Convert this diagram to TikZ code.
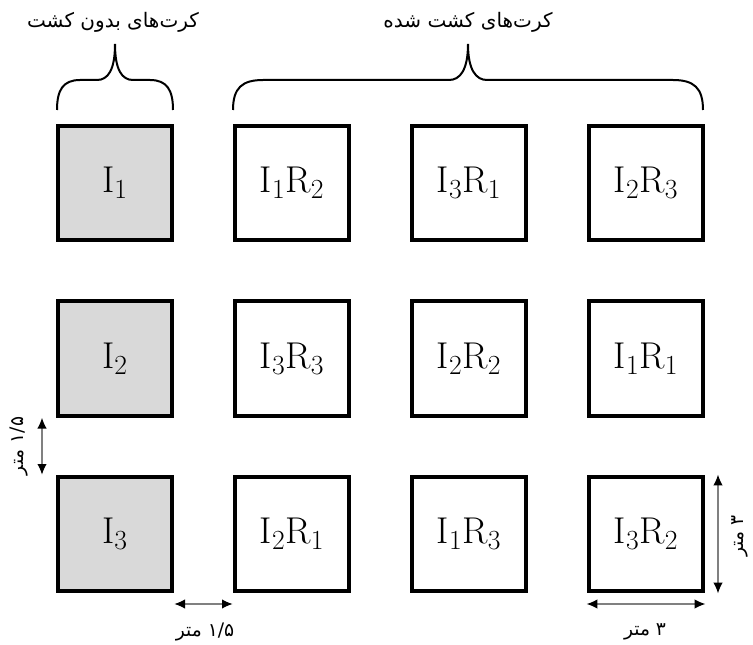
\documentclass[tikz,border=0pt]{standalone}
\usepackage{fontspec}
\usetikzlibrary{arrows.meta, positioning}
\newfontfamily\persianfont[Script=Arabic]{DejaVu Sans}
\TeXXeTstate=1
\newcommand{\fa}[1]{{\persianfont\beginR #1\endR}}

\begin{document}
\begin{tikzpicture}[x=0.75pt, y=-0.75pt,
    plot/.style={draw, line width=3pt, minimum size=86pt, inner sep=0pt, font=\fontsize{28}{30}\selectfont},
    control/.style={plot, fill=gray!30},
    dim/.style={draw=gray, line width=0.8pt, {Latex[black, length=8pt, width=7pt]}-{Latex[black, length=8pt, width=7pt]}},
    dimlabel/.style={font=\fontsize{14}{16}\selectfont, inner sep=0pt},
    headlabel/.style={font=\fontsize{15}{17}\selectfont, inner sep=0pt},
    brace/.style={line width=1.5pt}]
\useasboundingbox (0,0) rectangle (753,645);

% plots without cultivation
\foreach \r in {1,2,3} {
    \node[control] (b\r1) at (115,{183+175.5*(\r-1)}) {$\mathrm{I}_\r$};
}
% cultivated plots
\foreach \r/\c/\i/\k in {1/2/1/2, 1/3/3/1, 1/4/2/3, 2/2/3/3, 2/3/2/2, 2/4/1/1, 3/2/2/1, 3/3/1/3, 3/4/3/2} {
    \node[plot] (b\r\c) at ({115+177*(\c-1)},{183+175.5*(\r-1)}) {$\mathrm{I}_\i\mathrm{R}_\k$};
}

% braces
\draw[brace] (57,110) .. controls (57,90) and (63,80) .. (80,80) -- (97,80)
    .. controls (108,80) and (115,70) .. (115,44)
    .. controls (115,70) and (122,80) .. (133,80) -- (150,80)
    .. controls (167,80) and (173,90) .. (173,110);
\draw[brace] (233,110) .. controls (233,88) and (242,80) .. (263,80) -- (449,80)
    .. controls (460,80) and (468,70) .. (468,44)
    .. controls (468,70) and (476,80) .. (487,80) -- (673,80)
    .. controls (694,80) and (703,88) .. (703,110);
\node[headlabel] (uncult) at (113,22) {\fa{کرت^^^^200cهای بدون کشت}};
\node[headlabel] (cult) at (468,22) {\fa{کرت^^^^200cهای کشت شده}};

% dimensions
\coordinate (vl) at (42,0);
\coordinate (vr) at (718,0);
\coordinate (hb) at (0,604);
\draw[dim] (vl |- b21.south) -- (vl |- b31.north);
\draw[dim] (b31.east |- hb) -- (b32.west |- hb);
\draw[dim] (b34.west |- hb) -- (b34.east |- hb);
\draw[dim] (vr |- b34.north) -- (vr |- b34.south);
\node[dimlabel, rotate=90] (gapv) at (19,446) {\fa{\beginL ۱/۵\endL{} متر}};
\node[dimlabel] (gaph) at (205,632) {\fa{\beginL ۱/۵\endL{} متر}};
\node[dimlabel] (sizeh) at (645,632) {\fa{۳ متر}};
\node[dimlabel, rotate=90] (sizev) at (740,536) {\fa{۳ متر}};
\end{tikzpicture}
\end{document}
